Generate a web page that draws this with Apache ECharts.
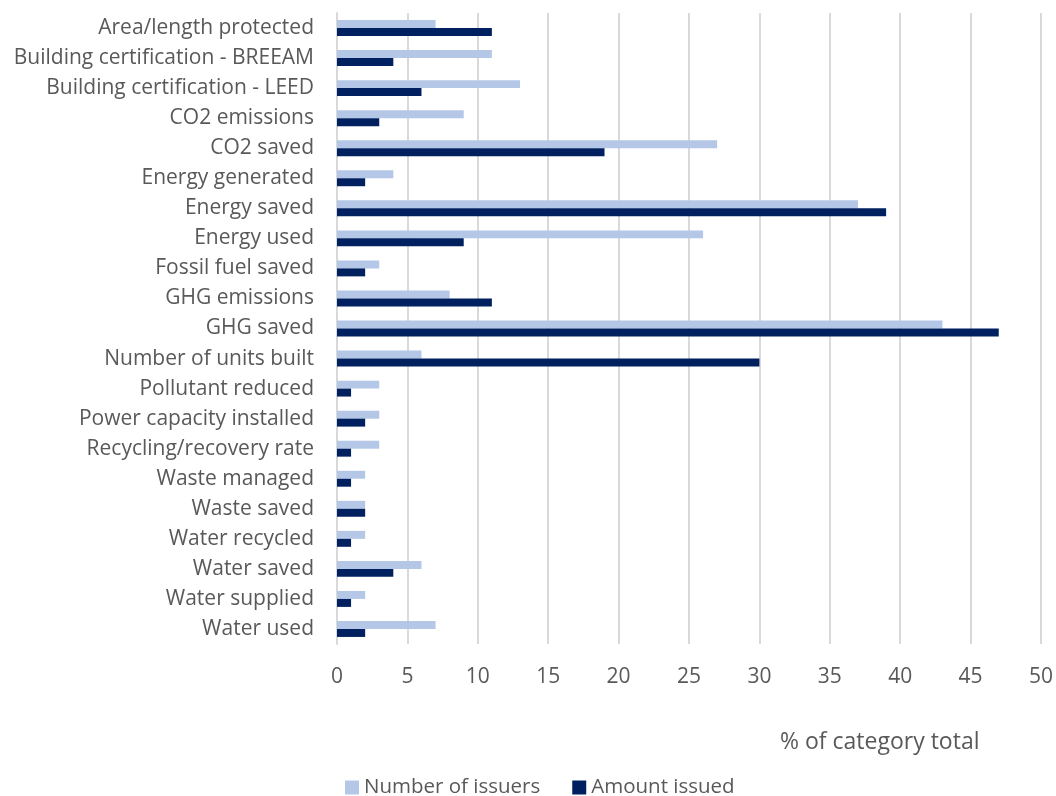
<!DOCTYPE html>
<html><head><meta charset="utf-8">
<script src="https://cdn.jsdelivr.net/npm/echarts@6/dist/echarts.min.js"></script>
<style>html,body{margin:0;padding:0;background:#fff}#c{width:1056px;height:796px}</style>
</head><body><div id="c"></div>
<script>
const categories = ["Area/length protected","Building certification - BREEAM","Building certification - LEED","CO2 emissions","CO2 saved","Energy generated","Energy saved","Energy used","Fossil fuel saved","GHG emissions","GHG saved","Number of units built","Pollutant reduced","Power capacity installed","Recycling/recovery rate","Waste managed","Waste saved","Water recycled","Water saved","Water supplied","Water used"];
const numberOfIssuers = [7,11,13,9,27,4,37,26,3,8,43,6,3,3,3,2,2,2,6,2,7];
const amountIssued = [11,4,6,3,19,2,39,9,2,11,47,30,1,2,1,1,2,1,4,1,2];
const xTicks = [0,5,10,15,20,25,30,35,40,45,50];
const seriesNames = ["Number of issuers","Amount issued"];
const axisTitle = "% of category total";

const FONT = "Open Sans";
const TXT = "#595959";
const chart = echarts.init(document.getElementById('c'));
chart.setOption({
  animation:false,
  textStyle:{fontFamily:FONT,color:TXT},
  grid:{left:337,right:15,top:13,bottom:152,containLabel:false},
  legend:{
    data:seriesNames, top:772, left:340,
    itemWidth:14,itemHeight:14,itemGap:32,icon:'rect',
    textStyle:{fontFamily:FONT,fontSize:20.5,color:TXT}
  },
  graphic:[{type:'text',left:780,top:731,style:{text:axisTitle,font:'23px "Open Sans"',fill:TXT}}],
  xAxis:{
    type:'value',min:xTicks[0],max:xTicks[xTicks.length-1],interval:5,
    axisLine:{show:false},axisTick:{show:false},
    splitLine:{show:true,lineStyle:{color:'#D9D9D9',width:2}},
    axisLabel:{fontSize:21,color:TXT,margin:23,fontFamily:FONT}
  },
  yAxis:{
    type:'category',data:categories,inverse:true,
    axisLine:{show:true,lineStyle:{color:'#D9D9D9',width:2}},
    axisTick:{show:false},
    axisLabel:{fontSize:21,color:TXT,margin:23,fontFamily:FONT}
  },
  series:[
    {name:seriesNames[0],type:'bar',data:numberOfIssuers,barGap:'0%',barCategoryGap:'47%',itemStyle:{color:'#B4C7E7'}},
    {name:seriesNames[1],type:'bar',data:amountIssued,barGap:'0%',barCategoryGap:'47%',itemStyle:{color:'#002060'}}
  ]
});
</script></body></html>
